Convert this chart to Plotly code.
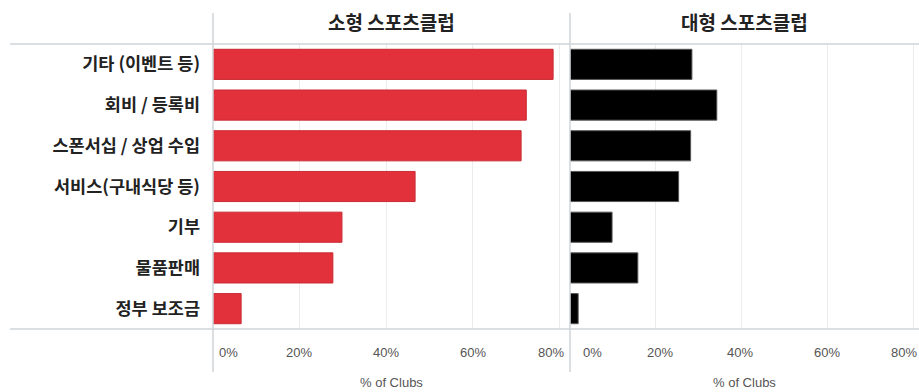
import plotly.graph_objects as go
from plotly.subplots import make_subplots

categories = ["기타 (이벤트 등)", "회비 / 등록비", "스폰서십 / 상업 수입", "서비스(구내식당 등)", "기부", "물품판매", "정부 보조금"]
small_clubs = [78.6, 72.4, 71.2, 46.7, 29.8, 27.7, 6.5]
large_clubs = [28.4, 34.2, 28.1, 25.3, 9.8, 15.8, 1.9]
panel_titles = ["소형 스포츠클럽", "대형 스포츠클럽"]
tick_vals = [0, 20, 40, 60, 80]
tick_text = ["0%", "20%", "40%", "60%", "80%"]
axis_title = "% of Clubs"

# label pixel offsets (style only)
shifts_left = [15, -1, 0, 0, -8]
shifts_right = [22, 4, -2, -1, -9]

W, H = 919, 392
L, R, T, B = 213, 0, 44, 63
pw = W - L - R
ph = H - T - B
split = (570 - L) / pw

fig = make_subplots(rows=1, cols=2, shared_yaxes=True, horizontal_spacing=0,
                    column_widths=[split, 1 - split])

fig.add_trace(go.Bar(y=categories, x=small_clubs, orientation="h",
                     marker=dict(color="#e2313b", line=dict(color="#c92a33", width=1)),
                     width=0.74, showlegend=False), row=1, col=1)
fig.add_trace(go.Bar(y=categories, x=large_clubs, orientation="h",
                     marker=dict(color="#000000", line=dict(color="#555555", width=1)),
                     width=0.74, showlegend=False), row=1, col=2)

tickfont = dict(family="Liberation Sans, Arial, sans-serif", size=13, color="#555555")
ranges = [[0, 82.5], [0, 81.3]]
for c, rng in [(1, ranges[0]), (2, ranges[1])]:
    fig.update_xaxes(range=rng, tickvals=tick_vals, showticklabels=False,
                     showgrid=True, gridcolor="#ececec", gridwidth=1,
                     zeroline=False, showline=False,
                     row=1, col=c)

fig.update_yaxes(categoryorder="array", categoryarray=categories, autorange="reversed",
                 showgrid=False, zeroline=False, showline=False,
                 ticklabelstandoff=12, tickprefix="<b>", ticksuffix="</b>",
                 tickfont=dict(family="Noto Sans CJK KR", size=17.5, color="#222222"),
                 row=1, col=1)

tick_y = (H - B - 352) / ph
title_y = (H - B - 382) / ph
for xref, shifts, rng in [("x", shifts_left, ranges[0]), ("x2", shifts_right, ranges[1])]:
    for v, t, s in zip(tick_vals, tick_text, shifts):
        fig.add_annotation(text=t, xref=xref, yref="paper", x=v, y=tick_y, xshift=s,
                           showarrow=False, xanchor="center", yanchor="middle", font=tickfont)
    fig.add_annotation(text=axis_title, xref=xref + " domain", yref="paper", x=0.5, y=title_y,
                       showarrow=False, xanchor="center", yanchor="middle", font=tickfont)

# separators and horizontal rules
x_left = (10 - L) / pw
line_col = "#cfd4d8"
for yv in [0, 1]:
    fig.add_shape(type="line", xref="paper", yref="paper", x0=x_left, x1=1, y0=yv, y1=yv,
                  line=dict(color=line_col, width=1.5))
y_top = (H - B - 13) / ph
y_bot = (H - B - 372) / ph
for xv in [0, split]:
    fig.add_shape(type="line", xref="paper", yref="paper", x0=xv, x1=xv, y0=y_bot, y1=y_top,
                  line=dict(color=line_col, width=1.5))

head_y = (H - B - 22) / ph
for i, t in enumerate(panel_titles):
    cx = split / 2 if i == 0 else (split + 1) / 2
    fig.add_annotation(text="<b>" + t + "</b>", xref="paper", yref="paper", x=cx, y=head_y,
                       showarrow=False, xanchor="center", yanchor="middle",
                       font=dict(family="Noto Sans CJK KR", size=19, color="#222222"))

fig.update_layout(width=W, height=H, margin=dict(l=L, r=R, t=T, b=B),
                  plot_bgcolor="white", paper_bgcolor="white")

fig.write_html("out.html")
